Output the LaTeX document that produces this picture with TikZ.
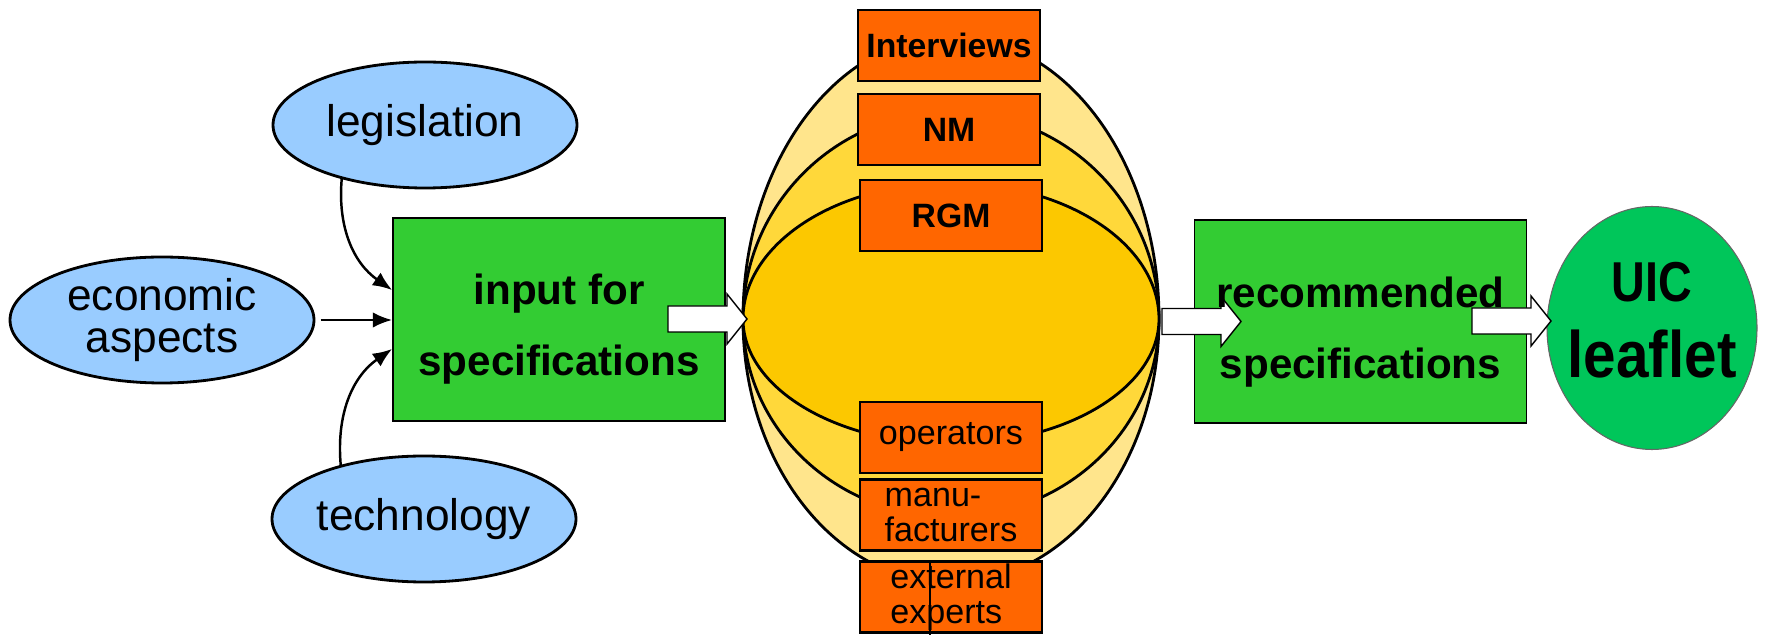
\documentclass[tikz,border=0pt]{standalone}
\usepackage{fontspec}
\setmainfont{Liberation Sans}
\usetikzlibrary{shapes.geometric,arrows.meta}

\tikzset{
  blockarrow/.pic={
    \draw[fill=white,line width=0.4pt] (0,-13) -- (59,-13) -- (59,-25) -- (79,0)
      -- (59,25) -- (59,13) -- (0,13) -- cycle;
  }
}

\begin{document}
\begin{tikzpicture}[x=0.1mm,y=-0.1mm,
    topic/.style={ellipse,draw,line width=0.8pt,fill=lblue,inner sep=0pt,
      minimum width=30.4mm,minimum height=12.6mm,align=center,
      font=\fontsize{12.6}{12.2}\selectfont},
    specbox/.style={rectangle,draw,line width=0.5pt,fill=bgreen,
      minimum width=33.2mm,minimum height=20.3mm},
    spectext/.style={inner sep=0pt,align=center,font=\bfseries\fontsize{12}{20.3}\selectfont},
    srcbox/.style={rectangle,draw,line width=0.7pt,fill=orng,inner sep=0pt,
      minimum width=18.2mm,minimum height=7.1mm},
    feed/.style={-{Latex[length=5.5pt,width=4.4pt]},line width=0.7pt}]
    %colores
    \definecolor{lblue}{HTML}{99CCFF}
    \definecolor{bgreen}{HTML}{33CC33}
    \definecolor{lgreen}{HTML}{00C65A}
    \definecolor{orng}{HTML}{FF6600}
    \definecolor{sph1}{HTML}{FFE58C}
    \definecolor{sph2}{HTML}{FFD83A}
    \definecolor{sph3}{HTML}{FCC800}

    \useasboundingbox (0,0) rectangle (1767,635);

    % entradas
    \node[topic] (leg) at (425,125) {legislation};
    \node[topic] (eco) at (162,320) {economic\\aspects};
    \node[topic] (tech) at (424,519) {technology};
    \node[specbox] (input) at (559,319.5) {};
    \draw[feed] (leg.213) to[out=-95,in=145] (input.170);
    \draw[feed,shorten <=1.5pt] (eco.east) -- (eco.east -| input.west);
    \draw[feed] (tech.147) to[out=95,in=-145] (input.190);

    % esfera
    \foreach \c/\rt/\rb in {sph1/28.3/26.4, sph2/20.7/19.8, sph3/13.6/12.5}
    \filldraw[fill=\c,line width=0.8pt] (743,319)
      arc[start angle=180,end angle=0,x radius=20.8mm,y radius=\rt mm]
      arc[start angle=0,end angle=-180,x radius=20.8mm,y radius=\rb mm] -- cycle;

    % fuentes
    \foreach \nm/\xpos/\ypos/\txt in {intv/949/45.5/Interviews, nm/949/129.5/NM, rgm/951/215.5/RGM}
    \node[srcbox,font=\bfseries\fontsize{9.6}{9.8}\selectfont] (\nm) at (\xpos,\ypos) {\txt};
    \foreach \nm/\ypos/\txt in {oper/437.5/operators, manu/515/{manu-\\facturers}, ext/597/{external\\experts}}
    \node[srcbox,align=left,font=\fontsize{9.7}{9.8}\selectfont] (\nm) at (951,\ypos) {\txt};
    \coordinate (foot) at (930,635);
    \draw[line width=0.4pt] (ext.north -| foot) -- (foot);

    % salidas
    \node[specbox] (rec) at (1360.5,321.5) {};
    \node[ellipse,draw=black!60,line width=0.3pt,fill=lgreen,
      minimum width=21mm,minimum height=24.3mm] (uic) at (1652,328) {};

    % flechas
    \pic at (668,319) {blockarrow};
    \pic at (1162,321.5) {blockarrow};
    \pic at (1472,321) {blockarrow};

    % textos
    \node[spectext] at ([yshift=-0.95mm]input.center) {input for\\specifications};
    \node[spectext] at ([yshift=-1.05mm]rec.center) {recommended\\specifications};
    \node[inner sep=0pt,anchor=base,font=\bfseries\fontsize{16}{18}\selectfont]
      (uictop) at ([yshift=2.6mm]uic.center) {\scalebox{0.83}[1]{UIC}};
    \node[inner sep=0pt,anchor=base,font=\bfseries\fontsize{18.7}{21}\selectfont]
      (uicbot) at ([yshift=-5mm]uic.center) {\scalebox{0.89}[1]{leaflet}};
\end{tikzpicture}
\end{document}
